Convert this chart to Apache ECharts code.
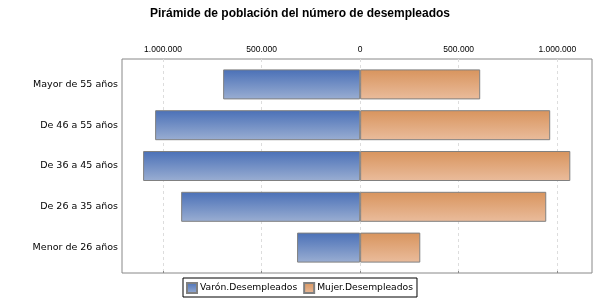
<!DOCTYPE html>
<html>
<head>
<meta charset="utf-8">
<script src="https://cdn.jsdelivr.net/npm/echarts@6/dist/echarts.min.js"></script>
<style>
  html, body { margin: 0; padding: 0; background: #fff; }
  #main { width: 600px; height: 300px; }
</style>
</head>
<body>
<div id="main"></div>
<script>
// datos
var categorias = ['Mayor de 55 años', 'De 46 a 55 años', 'De 36 a 45 años', 'De 26 a 35 años', 'Menor de 26 años'];
var varon = [695000, 1040000, 1101000, 908000, 320000];
var mujer = [609000, 964000, 1066000, 944000, 305000];
var marcas = [-1000000, -500000, 0, 500000, 1000000];
var ejeMin = -1208000;
var ejeMax = 1176000;

function miles(v) {
    return String(Math.abs(v)).replace(/\B(?=(\d{3})+(?!\d))/g, '.');
}

function degradado(arriba, abajo) {
    return new echarts.graphic.LinearGradient(0, 0, 0, 1, [
        {offset: 0, color: arriba},
        {offset: 1, color: abajo}
    ]);
}

var myChart = echarts.init(document.getElementById('main'));
var option = {
    animation: false,
    textStyle: {fontFamily: 'Liberation Sans'},
    title: {
        text: 'Pirámide de población del número de desempleados',
        left: 'center',
        top: 3,
        textStyle: {fontSize: 12, fontWeight: 'bold', color: '#000', fontFamily: 'Liberation Sans'}
    },
    legend: {
        data: ['Varón.Desempleados', 'Mujer.Desempleados'],
        left: 183,
        top: 278,
        borderColor: '#000',
        borderWidth: 1,
        padding: [4, 4, 3, 3],
        itemGap: 6,
        itemWidth: 10,
        itemHeight: 10,
        icon: 'rect',
        textStyle: {fontSize: 9.2, color: '#000', fontFamily: 'DejaVu Sans', padding: [0, 0, 0, -2]}
    },
    grid: [
        {left: 122, right: 8, top: 64, bottom: 32},
        {left: 122, right: 8, top: 59, bottom: 27, show: true, borderColor: '#888', borderWidth: 1}
    ],
    xAxis: [
        {type: 'value', gridIndex: 0, min: ejeMin, max: ejeMax, show: false},
        {
            type: 'value', gridIndex: 1, min: ejeMin, max: ejeMax, position: 'top',
            axisLine: {show: false},
            axisTick: {show: true, length: 2, customValues: marcas, lineStyle: {color: '#888'}},
            axisLabel: {
                customValues: marcas, margin: 5, fontSize: 8.5, color: '#000',
                fontFamily: 'Liberation Sans', formatter: miles
            },
            splitLine: {show: true, lineStyle: {color: '#ddd', type: [3, 3]}}
        }
    ],
    yAxis: [
        {
            type: 'category', gridIndex: 0, data: categorias, inverse: true,
            axisLine: {show: false}, axisTick: {show: false},
            axisLabel: {margin: 4, fontSize: 9.5, color: '#000', fontFamily: 'DejaVu Sans'}
        },
        {type: 'value', gridIndex: 1, show: false}
    ],
    series: [
        {
            name: 'Varón.Desempleados',
            type: 'bar',
            stack: 'total',
            barWidth: 30,
            xAxisIndex: 0, yAxisIndex: 0,
            data: varon.map(function (v) { return -v; }),
            itemStyle: {color: degradado('#4a70b7', '#9aaed2'), borderColor: '#808080', borderWidth: 1}
        },
        {
            name: 'Mujer.Desempleados',
            type: 'bar',
            stack: 'total',
            barWidth: 30,
            xAxisIndex: 0, yAxisIndex: 0,
            data: mujer,
            itemStyle: {color: degradado('#d8945d', '#eabc9c'), borderColor: '#808080', borderWidth: 1}
        }
    ]
};
myChart.setOption(option);
</script>
</body>
</html>
